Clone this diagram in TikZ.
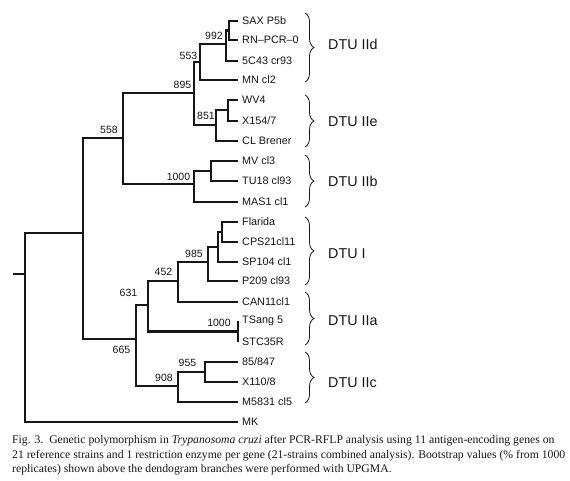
\documentclass[tikz,border=0pt]{standalone}
\usepackage{fontspec}
\setmainfont{Liberation Serif}
\newfontfamily\treefont{Liberation Sans}
\usetikzlibrary{decorations.pathreplacing}
\definecolor{ink}{HTML}{161616}
\tikzset{
  branch/.style={draw=ink, line width=2.2pt, line join=miter},
  leaf/.style={anchor=west, inner xsep=4pt, inner ysep=0pt, font=\treefont\fontsize{10.8}{12}\selectfont, text=ink},
  boot/.style={inner sep=0pt, font=\treefont\fontsize{10.5}{12}\selectfont, text=ink},
  dtubrace/.style={draw=ink, line width=0.8pt, decorate, decoration={brace, amplitude=9pt}},
  dtulabel/.style={anchor=west, inner sep=0pt, font=\treefont\fontsize{14.3}{16}\selectfont, text=ink},
  caption/.style={anchor=west, inner sep=0pt, font=\fontsize{11.7}{13}\selectfont, text=ink}
}
\begin{document}
\begin{tikzpicture}[x=1pt, y=-1pt]
\useasboundingbox (0,0) rectangle (570,480);
% leaves
\node[leaf] (sax) at (238,21) {SAX P5b};
\node[leaf] (rn) at (238,40) {RN–PCR–0};
\node[leaf] (c43) at (238,61) {5C43 cr93};
\node[leaf] (mn) at (238,80) {MN cl2};
\node[leaf] (wv4) at (238,100) {WV4};
\node[leaf] (x154) at (238,121) {X154/7};
\node[leaf] (clb) at (238,141) {CL Brener};
\node[leaf] (mv) at (238,161) {MV cl3};
\node[leaf] (tu) at (238,181) {TU18 cl93};
\node[leaf] (mas) at (238,202) {MAS1 cl1};
\node[leaf] (fla) at (238,222) {Flarida};
\node[leaf] (cps) at (238,242) {CPS21cl11};
\node[leaf] (sp) at (238,262) {SP104 cl1};
\node[leaf] (p209) at (238,281) {P209 cl93};
\node[leaf] (can) at (238,302) {CAN11cl1};
\node[leaf] (tsa) at (238,321) {TSang 5};
\node[leaf] (stc) at (238,342) {STC35R};
\node[leaf] (e85) at (238,362) {85/847};
\node[leaf] (x110) at (238,382) {X110/8};
\node[leaf] (m58) at (238,402) {M5831 cl5};
\node[leaf] (mk) at (238,422) {MK};
% internal nodes
\coordinate (n1) at (229,30.5);
\coordinate (n2) at (226,44);
\coordinate (n553) at (200,62);
\coordinate (n3) at (228,110);
\coordinate (n851) at (216,125);
\coordinate (n895) at (194,93);
\coordinate (n4) at (211,171);
\coordinate (n1000) at (194,184);
\coordinate (n558) at (123,138);
\coordinate (n5) at (222,232);
\coordinate (n6) at (218,247);
\coordinate (n7) at (208,262);
\coordinate (n985) at (178,281);
\coordinate (nts) at (238,331.5);
\coordinate (n452) at (148,305);
\coordinate (n955) at (205,372);
\coordinate (n908) at (178,386);
\coordinate (n631) at (136,339);
\coordinate (na) at (83,233);
\coordinate (root) at (25,274);
\coordinate (stub) at (13,274);
% branches
\draw[branch] (n1) |- (sax.west); \draw[branch] (n1) |- (rn.west);
\draw[branch] (n2) |- (n1); \draw[branch] (n2) |- (c43.west);
\draw[branch] (n553) |- (n2); \draw[branch] (n553) |- (mn.west);
\draw[branch] (n3) |- (wv4.west); \draw[branch] (n3) |- (x154.west);
\draw[branch] (n851) |- (n3); \draw[branch] (n851) |- (clb.west);
\draw[branch] (n895) |- (n553); \draw[branch] (n895) |- (n851);
\draw[branch] (n4) |- (mv.west); \draw[branch] (n4) |- (tu.west);
\draw[branch] (n1000) |- (n4); \draw[branch] (n1000) |- (mas.west);
\draw[branch] (n558) |- (n895); \draw[branch] (n558) |- (n1000);
\draw[branch] (n5) |- (fla.west); \draw[branch] (n5) |- (cps.west);
\draw[branch] (n6) |- (n5); \draw[branch] (n6) |- (sp.west);
\draw[branch] (n7) |- (n6); \draw[branch] (n7) |- (p209.west);
\draw[branch] (n985) |- (n7); \draw[branch] (n985) |- (can.west);
\draw[branch] (nts) -- (tsa.west); \draw[branch] (nts) -- (stc.west);
\draw[branch] (n452) |- (n985); \draw[branch] (n452) |- (nts);
\draw[branch] (n955) |- (e85.west); \draw[branch] (n955) |- (x110.west);
\draw[branch] (n908) |- (n955); \draw[branch] (n908) |- (m58.west);
\draw[branch] (n631) |- (n452); \draw[branch] (n631) |- (n908);
\draw[branch] (na) |- (n558); \draw[branch] (na) |- (n631);
\draw[branch] (root) |- (na); \draw[branch] (root) |- (mk.west);
\draw[branch] (stub) -- (root);
% bootstrap values
\node[boot] (b992) at (214,36) {992};
\node[boot] (b553) at (188.5,56) {553};
\node[boot] (b895) at (182.5,85) {895};
\node[boot] (b851) at (206,116) {851};
\node[boot] (b558) at (109,130) {558};
\node[boot] (b1000a) at (178.5,177) {1000};
\node[boot] (b985) at (194,254) {985};
\node[boot] (b452) at (163.5,272) {452};
\node[boot] (b631) at (128.5,293) {631};
\node[boot] (b1000b) at (219,323) {1000};
\node[boot] (b665) at (121.5,350) {665};
\node[boot] (b955) at (187.5,363) {955};
\node[boot] (b908) at (164,378) {908};
% braces
\coordinate (d1t) at (305,13); \coordinate (d1b) at (305,82);
\coordinate (d2t) at (305,95); \coordinate (d2b) at (305,147);
\coordinate (d3t) at (305,155); \coordinate (d3b) at (305,207);
\coordinate (d4t) at (305,217); \coordinate (d4b) at (305,285);
\coordinate (d5t) at (305,292); \coordinate (d5b) at (305,345);
\coordinate (d6t) at (305,352); \coordinate (d6b) at (305,403);
\draw[dtubrace] (d1t) -- (d1b);
\draw[dtubrace] (d2t) -- (d2b);
\draw[dtubrace] (d3t) -- (d3b);
\draw[dtubrace] (d4t) -- (d4b);
\draw[dtubrace] (d5t) -- (d5b);
\draw[dtubrace] (d6t) -- (d6b);
\node[dtulabel] (l1) at (328,44) {DTU IId};
\node[dtulabel] (l2) at (328,122) {DTU IIe};
\node[dtulabel] (l3) at (328,181) {DTU IIb};
\node[dtulabel] (l4) at (328,254) {DTU I};
\node[dtulabel] (l5) at (328,321) {DTU IIa};
\node[dtulabel] (l6) at (328,383) {DTU IIc};
% caption
\node[caption] (c1) at (12,441) {Fig. 3.\ \ Genetic polymorphism in \textit{Trypanosoma cruzi} after PCR-RFLP analysis using 11 antigen-encoding genes on};
\node[caption] (c2) at (12,456) {21 reference strains and 1 restriction enzyme per gene (21-strains combined analysis). Bootstrap values (\% from 1000};
\node[caption] (c3) at (12,470) {replicates) shown above the dendogram branches were performed with UPGMA.};
\end{tikzpicture}
\end{document}
